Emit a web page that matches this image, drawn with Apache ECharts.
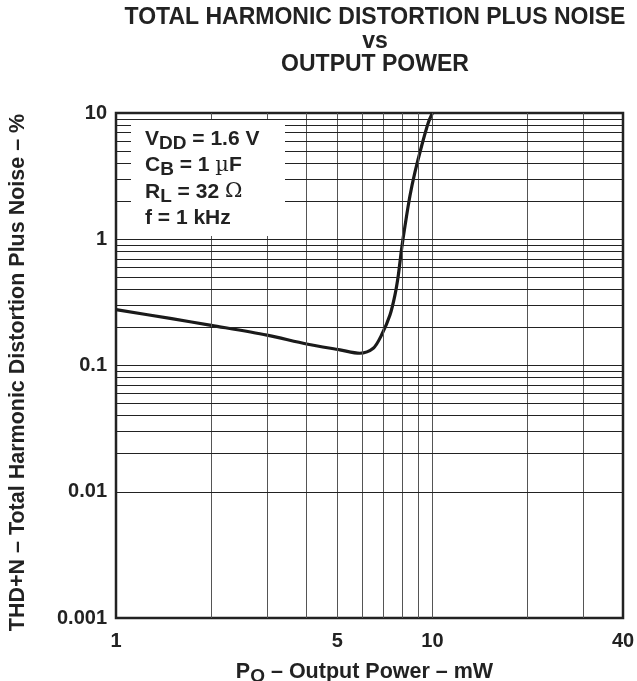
<!DOCTYPE html>
<html>
<head>
<meta charset="utf-8">
<script src="https://cdn.jsdelivr.net/npm/echarts@6/dist/echarts.min.js"></script>
<style>html,body{margin:0;padding:0;background:#fff}#c{width:637px;height:681px}</style>
</head>
<body>
<div id="c"></div>
<script>
// Curve: output power (mW) vs THD+N (%)
const powerMW = [1, 1.5, 2, 3, 4, 5.1, 5.9, 6.5, 6.91, 7.34, 7.61, 7.8, 7.99, 8.19, 8.49, 8.8, 9.24, 9.7, 10];
const thdPct  = [0.277, 0.235, 0.208, 0.174, 0.148, 0.133, 0.125, 0.137, 0.175, 0.251, 0.361, 0.519, 0.842, 1.28, 2.21, 3.38, 5.48, 8.37, 10];

const xTickValues = [1, 5, 10, 40];
const xTickLabels = ['1', '5', '10', '40'];
const yTickValues = [0.001, 0.01, 0.1, 1, 10];
const yTickLabels = ['0.001', '0.01', '0.1', '1', '10'];

const xGridValues = [2, 3, 4, 5, 6, 7, 8, 9, 10, 20, 30];
const yGridValues = [0.002, 0.003, 0.004, 0.005, 0.006, 0.007, 0.008, 0.009, 0.01,
                     0.02, 0.03, 0.04, 0.05, 0.06, 0.07, 0.08, 0.09, 0.1,
                     0.2, 0.3, 0.4, 0.5, 0.6, 0.7, 0.8, 0.9, 1,
                     2, 3, 4, 5, 6, 7, 8, 9];

const FONT = '"Liberation Sans", Arial, Helvetica, sans-serif';

function labelFor(values, labels, v) {
  let best = -1, bd = Infinity;
  values.forEach((t, i) => { const d = Math.abs(Math.log10(t) - Math.log10(v)); if (d < bd) { bd = d; best = i; } });
  return bd < 0.01 ? labels[best] : '';
}

const chart = echarts.init(document.getElementById('c'), null, { renderer: 'canvas' });

const gridLines = [];
xGridValues.forEach(v => gridLines.push({ xAxis: v, lineStyle: { color: '#555', width: 1, type: 'solid' } }));
yGridValues.forEach(v => gridLines.push({ yAxis: v, lineStyle: { color: '#222', width: 1, type: 'solid' } }));

chart.setOption({
  animation: false,
  backgroundColor: '#fff',
  textStyle: { fontFamily: FONT },
  title: {
    text: 'TOTAL HARMONIC DISTORTION PLUS NOISE\nvs\nOUTPUT POWER',
    left: 370, top: 1, textAlign: 'center',
    textStyle: { fontFamily: FONT, fontSize: 23, fontWeight: 'bold', color: '#222', lineHeight: 23.5 }
  },
  grid: { left: 116, right: 14, top: 113, bottom: 63, outerBoundsMode: 'none', containLabel: false,
          show: true, borderColor: '#222', borderWidth: 2.5, backgroundColor: 'transparent' },
  xAxis: {
    type: 'log', logBase: 10, min: 1, max: 40,
    name: 'P{sub|O} – Output Power – mW',
    nameLocation: 'middle', nameGap: 42,
    nameTextStyle: {
      fontFamily: FONT, fontSize: 21.5, fontWeight: 'bold', color: '#222', lineHeight: 24, padding: [0, 10, 0, 0],
      rich: { sub: { fontFamily: FONT, fontSize: 19, fontWeight: 'bold', color: '#222', lineHeight: 24, padding: [9, 0, 0, 0] } }
    },
    axisLine: { show: false }, axisTick: { show: false },
    splitLine: { show: false }, minorSplitLine: { show: false },
    axisLabel: {
      customValues: xTickValues,
      margin: 13, fontFamily: FONT, fontSize: 20, fontWeight: 'bold', color: '#222',
      formatter: v => labelFor(xTickValues, xTickLabels, v)
    }
  },
  yAxis: {
    type: 'log', logBase: 10, min: 0.001, max: 10,
    name: 'THD+N – Total Harmonic Distortion Plus Noise – %',
    nameLocation: 'middle', nameGap: 87, nameRotate: 90,
    nameTextStyle: { fontFamily: FONT, fontSize: 21.5, fontWeight: 'bold', color: '#222', padding: [0, 14, 0, 0] },
    axisLine: { show: false }, axisTick: { show: false },
    splitLine: { show: false }, minorSplitLine: { show: false },
    axisLabel: {
      customValues: yTickValues,
      margin: 9, fontFamily: FONT, fontSize: 20, fontWeight: 'bold', color: '#222',
      formatter: v => labelFor(yTickValues, yTickLabels, v)
    }
  },
  series: [
    {
      type: 'line', data: [], z: 1, silent: true,
      markLine: { silent: true, symbol: 'none', animation: false, label: { show: false }, data: gridLines }
    },
    {
      type: 'line', z: 3, silent: true,
      data: powerMW.map((p, i) => [p, thdPct[i]]),
      showSymbol: false, smooth: 0.3,
      lineStyle: { color: '#1a1a1a', width: 3.2 }
    }
  ],
  graphic: [
    { type: 'rect', z: 50, silent: true, shape: { x: 131, y: 120, width: 154, height: 116 }, style: { fill: '#fff' } },
    {
      type: 'text', z: 51, left: 145, top: 125, silent: true,
      style: {
        text: 'V{sub|DD} = 1.6 V\nC{sub|B} = 1 {mu|µ}F\nR{sub|L} = 32 {mu|Ω}\nf = 1 kHz',
        font: 'bold 21px ' + FONT, fill: '#222', lineHeight: 26.5,
        rich: {
          sub: { font: 'bold 19px ' + FONT, fill: '#222', lineHeight: 26.5, padding: [9, 0, 0, 0] },
          mu: { font: '21px "DejaVu Serif", serif', fill: '#222', lineHeight: 26.5 }
        }
      }
    }
  ]
});
</script>
</body>
</html>
